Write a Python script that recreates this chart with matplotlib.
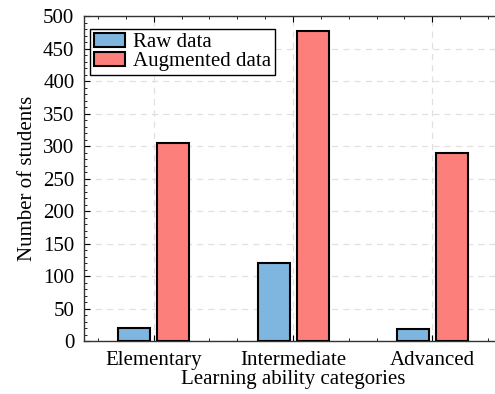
import matplotlib
matplotlib.use("Agg")
import matplotlib.pyplot as plt
import numpy as np
from matplotlib.ticker import MultipleLocator

plt.rcParams['font.family'] = ['Liberation Serif', 'DejaVu Serif']

categories = ["Elementary", "Intermediate", "Advanced"]
raw_data = [20, 120, 18]
augmented_data = [305, 477, 289]

x = np.arange(1, len(categories) + 1)
width = 0.23
fs = 15

fig = plt.figure(figsize=(4.95, 3.94), dpi=100)
ax = fig.add_axes([0.170, 0.1345, 0.844, 0.8245])

ax.bar(x - 0.14, raw_data, width, color='#7EB6E0', edgecolor='black',
       linewidth=1.5, label='Raw data', zorder=3)
ax.bar(x + 0.14, augmented_data, width, color='#FD7F7B', edgecolor='black',
       linewidth=1.5, label='Augmented data', zorder=3)

ax.set_xlim(0.5, 3.5)
ax.set_ylim(0, 500)
ax.set_xticks(x)
ax.set_xticklabels(categories)
ax.set_yticks(np.arange(0, 501, 50))
ax.xaxis.set_minor_locator(MultipleLocator(0.2))
ax.yaxis.set_minor_locator(MultipleLocator(10))

ax.tick_params(which='both', direction='in', top=True, right=True, labelsize=fs)
ax.tick_params(which='major', length=4, width=0.8, pad=7)
ax.tick_params(which='minor', length=2, width=0.6)
ax.grid(True, which='major', linestyle=(0, (5, 4)), color='#e0e0e0', linewidth=0.9, zorder=0)

for s in ax.spines.values():
    s.set_linewidth(1.0)
    s.set_color('#333333')

ax.set_xlabel("Learning ability categories", fontsize=fs, labelpad=0)
ax.set_ylabel("Number of students", fontsize=fs, labelpad=4)

leg = ax.legend(loc='upper left', bbox_to_anchor=(0.0144, 0.96), borderaxespad=0,
                fontsize=fs, fancybox=False, edgecolor='black', framealpha=1,
                borderpad=0.2, labelspacing=0.0, handlelength=1.45,
                handleheight=0.6, handletextpad=0.4)
leg.get_frame().set_linewidth(1.0)

fig.savefig("out.png", dpi=100)
